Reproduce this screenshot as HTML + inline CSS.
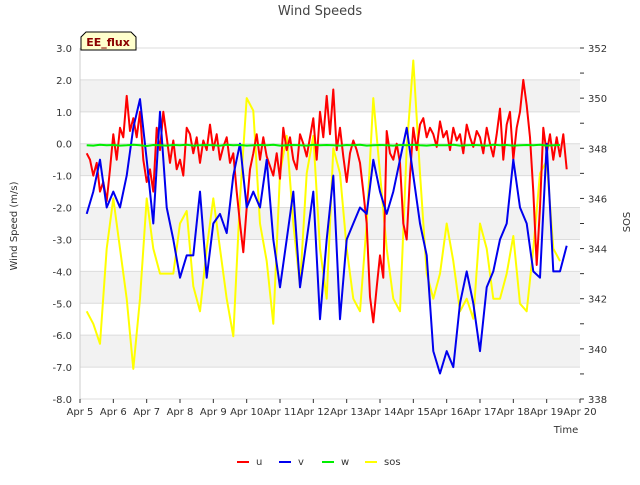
<!DOCTYPE html>
<html><head><meta charset="utf-8"><style>
body{margin:0;background:#fff;font-family:"Liberation Sans","DejaVu Sans",sans-serif}
svg text{font-family:"DejaVu Sans","Liberation Sans",sans-serif}
</style></head><body>
<svg id="c" width="640" height="480" viewBox="0 0 640 480" xmlns="http://www.w3.org/2000/svg"></svg>
<script>
const dayLabels=["Apr 5","Apr 6","Apr 7","Apr 8","Apr 9","Apr 10","Apr 11","Apr 12","Apr 13","Apr 14","Apr 15","Apr 16","Apr 17","Apr 18","Apr 19","Apr 20"];
const leftTicks=[3,2,1,0,-1,-2,-3,-4,-5,-6,-7,-8];
const rightTicks=[338,340,342,344,346,348,350,352];
const uStart=5.2, uStep=0.1;
const uVals=[-0.3,-0.5,-1.0,-0.6,-1.5,-1.2,-1.8,-0.8,
0.3,-0.5,0.5,0.2,1.5,0.4,0.8,0.2,1.0,-0.5,
-1.2,-0.8,-1.5,0.5,-0.2,1.0,0.2,-0.6,0.1,-0.8,
-0.5,-1.0,0.5,0.3,-0.3,0.2,-0.6,0.1,-0.2,0.6,
-0.2,0.3,-0.5,-0.1,0.2,-0.6,-0.3,-1.5,-2.5,-3.4,
-2.0,-0.8,-0.3,0.3,-0.5,0.2,-0.4,-0.7,-1.0,-0.3,
-1.1,0.5,-0.2,0.2,-0.5,-0.8,0.3,0.0,-0.4,0.2,
0.8,-0.5,1.0,0.2,1.5,0.3,1.7,-0.2,0.5,-0.4,
-1.2,-0.3,0.1,-0.2,-0.6,-1.5,-2.5,-4.8,-5.6,-4.5,
-3.5,-4.2,0.4,-0.3,-0.5,0.0,-0.6,-2.5,-3.0,-1.0,
0.5,-0.2,0.6,0.8,0.2,0.5,0.3,-0.1,0.7,0.2,
0.4,-0.2,0.5,0.1,0.3,-0.3,0.6,0.2,-0.1,0.4,
0.2,-0.3,0.5,0.0,-0.4,0.3,1.1,-0.5,0.6,1.0,
-0.5,0.5,1.0,2.0,1.2,0.2,-1.5,-3.8,-2.0,0.5,
-0.3,0.3,-0.5,0.2,-0.4,0.3,-0.8];
const vStart=5.2, vStep=0.2;
const vVals=[-2.2,-1.5,-0.5,-2.0,-1.5,-2.0,-1.0,0.5,1.4,-0.5,-2.5,1.0,-2.0,-3.0,-4.2,-3.5,-3.5,-1.5,-4.2,-2.5,-2.2,-2.8,-1.0,0.0,-2.0,-1.5,-2.0,-0.5,-3.0,-4.5,-3.0,-1.5,-4.5,-3.0,-1.5,-5.5,-3.0,-1.0,-5.5,-3.0,-2.5,-2.0,-2.2,-0.5,-1.5,-2.2,-1.5,-0.5,0.5,-1.0,-2.5,-3.5,-6.5,-7.2,-6.5,-7.0,-5.0,-4.0,-5.0,-6.5,-4.5,-4.0,-3.0,-2.5,-0.5,-2.0,-2.5,-4.0,-4.2,0.0,-4.0,-4.0,-3.2];
const wVals=[-0.05,-0.06,-0.03,-0.05,-0.04,-0.06,-0.05,-0.03,-0.05,-0.07,-0.04,-0.05,-0.06,-0.04,-0.05,-0.03,-0.06,-0.05,-0.04,-0.05,-0.06,-0.03,-0.05,-0.04,-0.06,-0.05,-0.04,-0.05,-0.03,-0.06,-0.05,-0.04,-0.05,-0.06,-0.03,-0.05,-0.04,-0.05,-0.06,-0.04,-0.05,-0.03,-0.06,-0.05,-0.04,-0.05,-0.06,-0.04,-0.05,-0.03,-0.05,-0.06,-0.04,-0.05,-0.05,-0.03,-0.06,-0.05,-0.04,-0.05,-0.06,-0.03,-0.05,-0.04,-0.06,-0.05,-0.04,-0.05,-0.03,-0.06,-0.05,-0.04];
const sStart=5.2, sStep=0.2;
const sosVals=[341.5,341.0,340.2,344.0,346.0,344.0,342.0,339.2,342.0,346.0,344.0,343.0,343.0,343.0,345.0,345.5,342.5,341.5,344.0,346.0,344.0,342.0,340.5,346.0,350.0,349.5,345.0,343.5,341.0,347.0,348.5,345.0,342.5,347.0,348.5,344.0,342.0,348.0,347.0,344.0,342.0,341.5,345.0,350.0,347.0,344.0,342.0,341.5,348.0,351.5,347.0,343.0,342.0,343.0,345.0,343.5,341.5,342.0,341.2,345.0,344.0,342.0,342.0,343.0,344.5,341.8,341.5,344.0,347.0,347.5,344.0,343.5];

const svg=document.getElementById('c');const NS='http://www.w3.org/2000/svg';
const X0=80,X1=580,Y0=48,Y1=399;
const xs=d=>X0+(d-5)*(X1-X0)/15;
const yl=v=>Y0+(3-v)*(Y1-Y0)/11;
const yr=v=>Y0+(352-v)*(Y1-Y0)/14;
function mk(t,a,p){const e=document.createElementNS(NS,t);for(const k in a)e.setAttribute(k,a[k]);(p||svg).appendChild(e);return e;}
// bands
for(let v=2;v>-8;v-=2){const r=mk('rect',{x:X0,y:yl(v),width:X1-X0,height:yl(v-1)-yl(v),fill:'#f2f2f2'});

}
leftTicks.forEach(v=>{const l=mk('line',{x1:X0,x2:X1,y1:yl(v),y2:yl(v),stroke:'#dcdcdc','stroke-width':1});


const t=mk('text',{x:X0-8,y:yl(v)+4,'text-anchor':'end','font-size':10,fill:'#333'});t.textContent=v.toFixed(1);

});
dayLabels.forEach((s,i)=>{const x=xs(5+i);mk('line',{x1:x,x2:x,y1:Y1,y2:Y1+4,stroke:'#333'});
const t=mk('text',{x:x,y:Y1+16,'text-anchor':'middle','font-size':10,fill:'#333'});t.textContent=s;

});
for(let v=338;v<=352;v++){mk('line',{x1:X1,x2:X1+4,y1:yr(v),y2:yr(v),stroke:'#333'});}
rightTicks.forEach(v=>{const t=mk('text',{x:X1+8,y:yr(v)+4,'font-size':10,fill:'#333'});t.textContent=v;

});
mk('line',{x1:X0,x2:X0,y1:Y0,y2:Y1,stroke:'#ccc'});
function series(vals,start,step,yf,col,name){
 const p=vals.map((v,i)=>xs(start+i*step).toFixed(1)+','+yf(v).toFixed(1)).join(' ');
 const e=mk('polyline',{points:p,fill:'none',stroke:col,'stroke-width':2,'stroke-linejoin':'round'});
 
 }
series(sosVals,sStart,sStep,yr,'#ffff00','sos-line');
series(uVals,uStart,uStep,yl,'#ff0000','u-line');
series(vVals,vStart,vStep,yl,'#0000ee','v-line');
series(wVals,vStart,vStep,yl,'#00ee00','w-line');
</script>
<svg width="640" height="480" style="position:absolute;left:0;top:0" xmlns="http://www.w3.org/2000/svg">
<text x="320" y="15" text-anchor="middle" font-size="13" fill="#444">Wind Speeds</text>
<text x="566" y="433" text-anchor="middle" font-size="10" fill="#333">Time</text>
<text transform="translate(17,226) rotate(-90)" text-anchor="middle" font-size="10" fill="#333">Wind Speed (m/s)</text>
<text transform="translate(630,222) rotate(-90)" text-anchor="middle" font-size="10" fill="#333">SOS</text>
<g>
<path d="M81,50 L81,37 L86,32 L131,32 L136,37 L136,50 Z" fill="#ffffcc" stroke="#000"/>
<text x="108" y="46" text-anchor="middle" font-size="11" font-weight="bold" fill="#8b0000">EE_flux</text></g>
<g>
<line x1="237" x2="249" y1="462" y2="462" stroke="#ff0000" stroke-width="2"/>
<text x="256" y="465" font-size="10" fill="#333">u</text>
<line x1="279" x2="291" y1="462" y2="462" stroke="#0000ee" stroke-width="2"/>
<text x="298" y="465" font-size="10" fill="#333">v</text>
<line x1="322" x2="334" y1="462" y2="462" stroke="#00ee00" stroke-width="2"/>
<text x="341" y="465" font-size="10" fill="#333">w</text>
<line x1="365" x2="377" y1="462" y2="462" stroke="#ffff00" stroke-width="2"/>
<text x="384" y="465" font-size="10" fill="#333">sos</text>
</g></svg>
</body></html>
